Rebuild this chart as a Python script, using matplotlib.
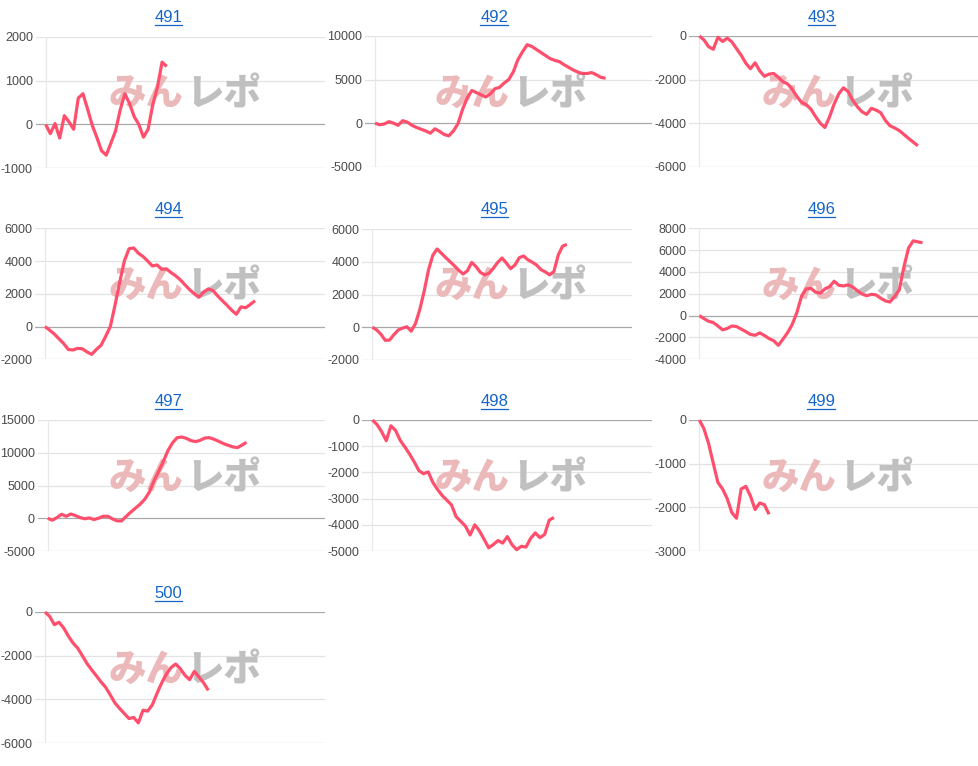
import matplotlib
matplotlib.use("Agg")
import matplotlib.pyplot as plt
from matplotlib.lines import Line2D
import numpy as np

plt.rcParams['font.family'] = ['Liberation Sans', 'DejaVu Sans']

# ---------------- data ----------------
titles = ["491", "492", "493", "494", "495", "496", "497", "498", "499", "500"]

s491 = [0, -210, 20, -310, 200, 60, -110, 600, 700, 350, -20, -300, -600, -700,
        -430, -150, 330, 700, 480, 180, 0, -290, -110, 450, 850, 1420, 1320]
s492 = [0, -190, -100, 170, 0, -250, 280, 120, -250, -500, -700, -900, -1150, -650,
        -950, -1300, -1460, -900, -50, 1600, 2900, 3750, 3500, 3250, 3000, 3350, 3950,
        4100, 4600, 5000, 5900, 7300, 8200, 9000, 8800, 8450, 8100, 7750, 7400, 7200,
        7050, 6700, 6400, 6100, 5850, 5700, 5700, 5800, 5550, 5250, 5150]
s493 = [0, -180, -490, -610, -60, -250, -100, -270, -580, -880, -1250, -1500, -1230,
        -1600, -1850, -1750, -1720, -1900, -2100, -2200, -2450, -2780, -3050, -3150,
        -3360, -3700, -4000, -4200, -3720, -3120, -2650, -2380, -2550, -2950, -3250,
        -3480, -3600, -3320, -3400, -3520, -3870, -4120, -4220, -4340, -4520, -4700,
        -4870, -5040]
s494 = [0, -220, -460, -750, -1040, -1400, -1430, -1330, -1360, -1550, -1700, -1400,
        -1150, -600, 0, 1300, 2700, 4000, 4750, 4800, 4480, 4280, 4000, 3700, 3760,
        3500, 3520, 3300, 3100, 2850, 2550, 2250, 2000, 1800, 2100, 2300, 2200, 1870,
        1580, 1300, 1000, 750, 1200, 1150, 1350, 1580]
s495 = [0, -160, -430, -800, -780, -450, -170, -50, 30, -240, 230, 1100, 2200, 3500,
        4400, 4780, 4510, 4250, 4000, 3750, 3480, 3250, 3450, 3960, 3700, 3350, 3200,
        3300, 3600, 3960, 4230, 3920, 3580, 3800, 4250, 4350, 4120, 3970, 3800, 3520,
        3380, 3200, 3400, 4400, 4950, 5060]
s496 = [0, -270, -520, -630, -950, -1300, -1180, -950, -1000, -1230, -1460, -1720,
        -1800, -1580, -1820, -2100, -2300, -2720, -2150, -1550, -800, 300, 1800, 2450,
        2500, 2150, 2050, 2450, 2650, 3150, 2780, 2720, 2820, 2620, 2280, 1980, 1820,
        1950, 1900, 1600, 1350, 1250, 1750, 2350, 4460, 6200, 6850, 6760, 6680]
s497 = [0, -300, 100, 610, 300, 650, 400, 100, -80, 50, -200, 0, 300, 300, -100, -400,
        -400, 300, 950, 1550, 2150, 2900, 4000, 5700, 7150, 8650, 10300, 11500, 12300,
        12400, 12200, 11850, 11700, 11900, 12250, 12300, 12050, 11750, 11400, 11150,
        10900, 10780, 11150, 11600]
s498 = [0, -170, -445, -790, -220, -400, -780, -1030, -1300, -1600, -1930, -2050,
        -1980, -2380, -2650, -2880, -3060, -3240, -3690, -3870, -4050, -4390, -4000,
        -4230, -4550, -4880, -4750, -4600, -4700, -4450, -4760, -4950, -4820, -4850,
        -4520, -4310, -4490, -4370, -3820, -3720]
s499 = [0, -200, -540, -990, -1430, -1580, -1800, -2120, -2250, -1580, -1520, -1740,
        -2050, -1900, -1940, -2160]
s500 = [0, -200, -580, -470, -730, -1100, -1420, -1650, -2000, -2360, -2650, -2920,
        -3200, -3450, -3800, -4170, -4420, -4650, -4880, -4830, -5080, -4500, -4540,
        -4250, -3730, -3250, -2850, -2550, -2380, -2600, -2900, -3100, -2720, -2980,
        -3250, -3590]

series = [s491, s492, s493, s494, s495, s496, s497, s498, s499, s500]

yticks = [
    [-1000, 0, 1000, 2000],
    [-5000, 0, 5000, 10000],
    [-6000, -4000, -2000, 0],
    [-2000, 0, 2000, 4000, 6000],
    [-2000, 0, 2000, 4000, 6000],
    [-4000, -2000, 0, 2000, 4000, 6000, 8000],
    [-5000, 0, 5000, 10000, 15000],
    [-5000, -4000, -3000, -2000, -1000, 0],
    [-3000, -2000, -1000, 0],
    [-6000, -4000, -2000, 0],
]

x_span = 60  # horizontal axis range (slots)

# ---------------- layout (pixels) ----------------
W, H = 979, 766
cell_x = [0, 326, 653]
cell_y = [0, 192, 384, 576]
# (x of first slot, right edge, top gridline, bottom gridline)
plot_px = [
    (45.7, 325.0, 36.7, 168.3),
    (375.0, 651.7, 36.0, 166.7),
    (699.3, 978.3, 36.0, 166.7),
    (45.0, 325.0, 228.3, 359.3),
    (372.3, 631.7, 229.0, 360.0),
    (699.3, 978.3, 228.3, 359.3),
    (47.7, 325.0, 420.0, 551.0),
    (372.3, 651.7, 420.0, 551.0),
    (699.3, 978.3, 420.0, 551.0),
    (45.0, 325.0, 612.0, 743.0),
]

LINE = '#ff4f6d'
TITLE = '#1565c8'
GRID = '#e3e3e3'
BASE = '#a8a8a8'
BOTTOM = '#cfcfcf'

fig = plt.figure(figsize=(W / 100, H / 100), dpi=100)
fig.patch.set_facecolor('white')

title_texts = []
for i, (name, vals, ticks, (x0, xr, yt, yb)) in enumerate(zip(titles, series, yticks, plot_px)):
    col, row = i % 3, i // 3
    left = x0 - 10
    ax = fig.add_axes([left / W, 1 - yb / H, (xr - left) / W, (yb - yt) / H])
    step = (xr - x0) / x_span
    ax.set_xlim(-10 / step, x_span)
    ax.set_ylim(ticks[0], ticks[-1])
    for t in ticks:
        if t == 0:
            c = BASE
        elif t == ticks[0]:
            c = BOTTOM
        else:
            c = GRID
        ax.axhline(t, color=c, lw=0.9, zorder=0.5)
    ax.axvline(0, color='#e8e8e8', lw=0.9, zorder=0.6)
    ax.plot(np.arange(len(vals)), vals, color=LINE, lw=2.3, zorder=3,
            solid_joinstyle='round', solid_capstyle='butt', clip_on=False)
    ax.set_yticks(ticks)
    ax.set_yticklabels([str(t) for t in ticks])
    ax.tick_params(axis='y', length=0, pad=2, labelsize=9, labelcolor='#4a4a4a')
    ax.set_xticks([])
    for sp in ax.spines.values():
        sp.set_visible(False)
    ax.patch.set_visible(False)

    # watermark
    cx = cell_x[col] + 184
    cy = cell_y[row] + 94
    ax.text(cx / W, 1 - cy / H, "みん", transform=fig.transFigure, ha='right', va='center',
            fontsize=27, fontweight='heavy', color='#ecb9bb', zorder=1,
            family=['Noto Sans CJK JP'])
    ax.text((cx + 2) / W, 1 - cy / H, "レポ", transform=fig.transFigure, ha='left', va='center',
            fontsize=27, fontweight='heavy', color='#c0c0c0', zorder=1,
            family=['Noto Sans CJK JP'])

    # title
    tx = cell_x[col] + 168.5
    ty = cell_y[row] + 22.5
    t = fig.text(tx / W, 1 - ty / H, name, ha='center', va='baseline',
                 fontsize=12, color=TITLE)
    title_texts.append((t, ty))

fig.canvas.draw()
renderer = fig.canvas.get_renderer()
for t, ty in title_texts:
    bb = t.get_window_extent(renderer)
    uy = 1 - (ty + 2.2) / H
    fig.add_artist(Line2D([bb.x0 / W, bb.x1 / W], [uy, uy], transform=fig.transFigure,
                          color=TITLE, lw=0.9))

fig.savefig('out.png', dpi=100, facecolor='white')
